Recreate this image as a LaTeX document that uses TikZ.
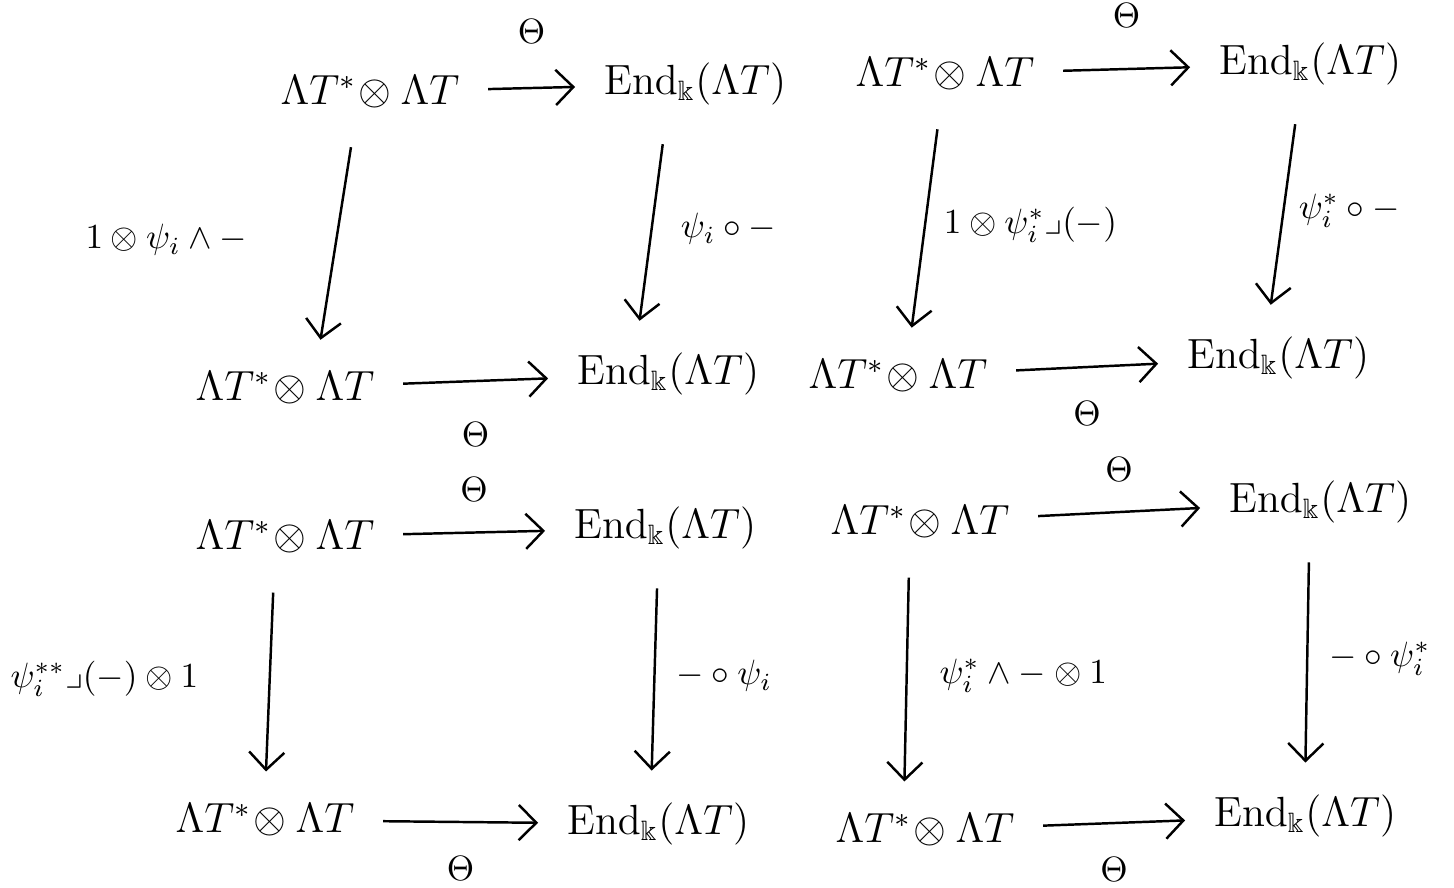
\documentclass[tikz,border=0pt]{standalone}
\usepackage{amsmath,amssymb}
\usetikzlibrary{arrows.meta}
\newcommand{\LTT}{$\Lambda T^{*}\!\otimes\Lambda T$}
\newcommand{\EndLT}{$\operatorname{End}_{\Bbbk}(\Lambda T)$}
\tikzset{
  obj/.style={font=\large, inner sep=2pt},
  map/.style={-{Straight Barb[length=5pt]}, line width=0.7pt, shorten <=6pt, shorten >=6pt},
  vmap/.style={map, shorten <=9pt, shorten >=7pt},
  lab/.style={font=\normalsize, inner sep=1pt}
}
\begin{document}
\begin{tikzpicture}[x=0.01cm,y=0.01cm]
    \useasboundingbox (0,-888) rectangle (1454,0);
    % top left
    \node [obj] (a1) at (370,-92) {\LTT};
    \node [obj] (b1) at (695,-84) {\EndLT};
    \node [obj] (c1) at (285,-388) {\LTT};
    \node [obj] (d1) at (668,-374) {\EndLT};
    \draw [map] (a1) -- (b1) node [midway, above=9pt] {$\Theta$};
    \draw [map] (c1) -- (d1) node [midway, below=8pt] {$\Theta$};
    \draw [vmap] ([xshift=-4pt]a1.south) -- ([xshift=9pt]c1.north) node [midway, left=24pt, lab] {$1\otimes\psi_i\wedge -$};
    \draw [vmap] ([xshift=-8pt]b1.south) -- ([xshift=-9pt]d1.north) node [midway, right=7pt, lab] {$\psi_i\circ -$};
    % top right
    \node [obj] (a2) at (945,-74) {\LTT};
    \node [obj] (b2) at (1310,-64) {\EndLT};
    \node [obj] (c2) at (898,-376) {\LTT};
    \node [obj] (d2) at (1278,-358) {\EndLT};
    \draw [map] (a2) -- (b2) node [midway, above=8pt] {$\Theta$};
    \draw [map] (c2) -- (d2) node [midway, below=6pt] {$\Theta$};
    \draw [vmap] ([xshift=-1pt]a2.south) -- ([xshift=3pt]c2.north) node [midway, right=4pt, lab] {$1\otimes\psi_i^{*}\lrcorner(-)$};
    \draw [vmap] ([xshift=-3pt]b2.south) -- ([xshift=-3pt]d2.north) node [midway, right=3pt, lab] {$\psi_i^{*}\circ -$};
    % bottom left
    \node [obj] (a3) at (285,-537) {\LTT};
    \node [obj] (b3) at (665,-528) {\EndLT};
    \node [obj] (c3) at (265,-820) {\LTT};
    \node [obj] (d3) at (658,-824) {\EndLT};
    \draw [map] (a3) -- (b3) node [midway, above=5pt] {$\Theta$};
    \draw [map] (c3) -- (d3) node [midway, below=6pt] {$\Theta$};
    \draw [vmap] ([xshift=-3pt]a3.south) -- (c3.north) node [midway, left=19pt, lab] {$\psi_i^{**}\lrcorner(-)\otimes 1$};
    \draw [vmap] ([xshift=-2pt]b3.south) -- ([xshift=-2pt]d3.north) node [midway, right=5pt, lab] {$-\circ\psi_i$};
    % bottom right
    \node [obj] (a4) at (920,-522) {\LTT};
    \node [obj] (b4) at (1320,-502) {\EndLT};
    \node [obj] (c4) at (925,-830) {\LTT};
    \node [obj] (d4) at (1305,-816) {\EndLT};
    \draw [map] (a4) -- (b4) node [midway, above=5pt] {$\Theta$};
    \draw [map] (c4) -- (d4) node [midway, below=6pt] {$\Theta$};
    \draw [vmap] ([xshift=-3pt]a4.south) -- ([xshift=-6pt]c4.north) node [midway, right=8pt, lab] {$\psi_i^{*}\wedge - \otimes 1$};
    \draw [vmap] ([xshift=-3pt]b4.south) -- (d4.north) node [midway, right=5pt, lab] {$-\circ\psi_i^{*}$};
\end{tikzpicture}
\end{document}
